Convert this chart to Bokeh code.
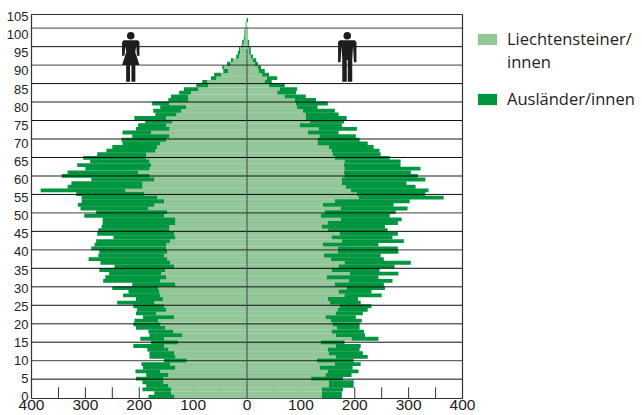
from bokeh.plotting import figure
from bokeh.embed import file_html
from bokeh.resources import INLINE
from bokeh.models import Range1d, FixedTicker, Legend, LegendItem

ages = list(range(105))
female_light = [135,141,141,146,155,155,146,161,133,143,112,133,135,146,154,128,154,120,137,152,161,165,135,169,150,154,172,156,161,163,165,133,161,150,159,152,135,143,148,154,148,150,150,143,133,135,144,144,133,133,154,148,183,172,154,167,191,226,194,194,172,181,202,181,178,181,187,187,170,167,161,150,144,178,144,150,139,150,131,122,113,144,109,109,104,91,72,74,57,48,35,43,31,26,15,13,13,8,6,4,4,4,3,3,0]
female_total = [183,172,194,187,194,206,187,207,193,196,154,181,181,185,211,178,198,181,183,206,211,209,193,206,204,211,241,206,230,220,250,213,267,263,256,274,246,272,294,276,274,289,283,280,248,278,276,270,268,268,302,280,309,314,307,307,317,383,333,326,289,344,333,300,315,291,304,278,261,250,231,233,213,231,206,202,189,209,170,174,161,176,146,141,126,117,94,83,67,61,44,46,37,30,20,17,15,10,9,6,5,5,3,3,1]
male_light = [139,139,139,152,152,119,146,150,135,163,130,165,152,150,165,137,194,165,157,167,159,156,146,165,169,172,154,150,181,170,185,163,189,148,191,157,170,181,156,143,169,169,141,176,157,172,150,139,150,174,137,144,174,141,163,207,204,193,183,176,176,181,180,181,180,181,163,159,157,152,131,131,135,113,133,98,117,109,109,104,93,91,89,70,56,61,41,33,37,28,22,20,15,11,7,4,4,2,1,2,2,2,1,0,0]
male_total = [176,176,178,198,198,178,194,207,196,211,198,224,215,209,211,181,244,219,217,209,209,213,202,215,224,231,211,206,250,231,256,254,270,244,281,246,274,304,254,248,281,280,244,291,270,280,261,256,280,287,265,276,298,272,302,365,331,337,313,296,331,317,304,322,285,285,265,248,246,235,224,209,202,170,204,176,180,185,170,163,131,150,128,109,91,93,70,46,56,41,33,26,20,17,11,7,7,4,4,2,2,2,1,0,2]
grid_levels = [5,10,15,20,25,30,35,40,45,50,55,60,65,70,75,80,85,90,95,100]
grid_alphas = [0.95 if g % 10 else 0.6 for g in grid_levels]
grid_widths = [1.0 if g % 10 else 1.4 for g in grid_levels]
x_major = [-400,-300,-200,-100,0,100,200,300,400]
x_minor = [-350,-250,-150,-50,50,150,250,350]
x_labels = {t: str(abs(t)) for t in x_major}
y_ticks = list(range(0, 106, 5))
LIGHT = "#93c799"
DARK = "#009640"
INK = "#1d1d20"
FONT = "Liberation Sans"

p = figure(width=642, height=415, output_backend="svg", toolbar_location=None,
           x_range=Range1d(-400, 400), y_range=Range1d(-0.5, 105.6),
           frame_width=431, frame_height=384,
           min_border_left=31, min_border_top=14, min_border_right=0, min_border_bottom=16)
p.extra_y_ranges = {"grid": Range1d(-0.24, 103.7)}
p.grid.visible = False
p.outline_line_color = "#333333"
p.outline_line_width = 1.2

all_ticks = x_major + x_minor
p.segment(x0=all_ticks, x1=all_ticks, y0=[-0.5] * len(all_ticks), y1=[2.6] * len(all_ticks),
          line_color="#333333", line_width=1)

left_zero = [0] * len(ages)
H = 1.06
p.hbar(y=ages, left=[-v for v in female_light], right=left_zero, height=H, fill_color=LIGHT, line_color=None)
p.hbar(y=ages, left=[-v for v in female_total], right=[-v for v in female_light], height=H, fill_color=DARK, line_color=None)
r_light = p.hbar(y=ages, left=left_zero, right=male_light, height=H, fill_color=LIGHT, line_color=None)
r_dark = p.hbar(y=ages, left=male_light, right=male_total, height=H, fill_color=DARK, line_color=None)
r_blank = p.hbar(y=[], left=[], right=[], height=H, fill_alpha=0, line_color=None)

p.segment(x0=[-400] * len(grid_levels), x1=[400] * len(grid_levels), y0=grid_levels, y1=grid_levels,
          y_range_name="grid", line_color="#000000", line_alpha=grid_alphas, line_width=grid_widths)
p.segment(x0=[0], x1=[0], y0=[-0.5], y1=[96], line_color="#444444", line_width=1)

def dx(px): return (px - 247) / 0.539
def dy(py): return (396.7 - py) / 3.62

def person(cx, parts):
    xs = [[dx(cx + a) for a, _ in part] for part in parts]
    ys = [[dy(b) for _, b in part] for part in parts]
    p.patches(xs, ys, fill_color=INK, line_color=None)
    p.ellipse([dx(cx)], [dy(35.7)], width=7.6 / 0.539, height=7.6 / 3.62, fill_color=INK, line_color=None)

woman = [
    [(-8.7, 42), (-7, 40.3), (7, 40.3), (8.7, 42), (8.7, 55.7), (6.2, 55.7), (5.5, 46), (4.5, 52), (-4.5, 52), (-5.5, 46), (-6.2, 55.7), (-8.7, 55.7)],
    [(-4.5, 52), (4.5, 52), (8.7, 65), (-8.7, 65)],
    [(-4.6, 65), (-0.7, 65), (-0.7, 81.7), (-4.6, 81.7)],
    [(0.7, 65), (4.6, 65), (4.6, 81.7), (0.7, 81.7)],
]
man = [
    [(-9.2, 42), (-7.5, 40.3), (7.5, 40.3), (9.2, 42), (9.2, 62.3), (6.7, 62.3), (5.8, 46), (5, 60), (-5, 60), (-5.8, 46), (-6.7, 62.3), (-9.2, 62.3)],
    [(-5, 60), (-0.5, 60), (-0.5, 81.7), (-5, 81.7)],
    [(0.5, 60), (5, 60), (5, 81.7), (0.5, 81.7)],
]
person(130.7, woman)
person(347.3, man)

ax = p.xaxis[0]
ax.ticker = FixedTicker(ticks=x_major)
ax.major_label_overrides = x_labels
ax.major_tick_in = 0
ax.major_tick_out = 0
ax.minor_tick_in = 0
ax.minor_tick_out = 0
ax.major_tick_line_color = None
ax.minor_tick_line_color = None
ax.axis_line_color = None
ax.major_label_standoff = 1
ax.major_label_text_font = FONT
ax.major_label_text_font_size = "15.5px"
ax.major_label_text_color = "#222222"

ay = p.yaxis[0]
ay.ticker = FixedTicker(ticks=y_ticks)
ay.major_tick_in = 0
ay.major_tick_out = 0
ay.minor_tick_in = 0
ay.minor_tick_out = 0
ay.major_tick_line_color = None
ay.minor_tick_line_color = None
ay.axis_line_color = None
ay.major_label_standoff = 3
ay.major_label_text_font = FONT
ay.major_label_text_font_size = "13px"
ay.major_label_text_color = "#222222"

legend = Legend(items=[LegendItem(label="Liechtensteiner/", renderers=[r_light]),
                       LegendItem(label="innen", renderers=[r_blank]),
                       LegendItem(label=" ", renderers=[r_blank]),
                       LegendItem(label="Ausländer/innen", renderers=[r_dark])],
                location=(13, 288), orientation="vertical", margin=0, padding=0, spacing=-14,
                glyph_width=24, glyph_height=14, label_standoff=8,
                label_text_font="Open Sans", label_text_color="#222222", label_text_font_size="16.5px",
                border_line_color=None, background_fill_color=None)
p.add_layout(legend, "right")

open("out.html", "w").write(file_html(p, INLINE))
